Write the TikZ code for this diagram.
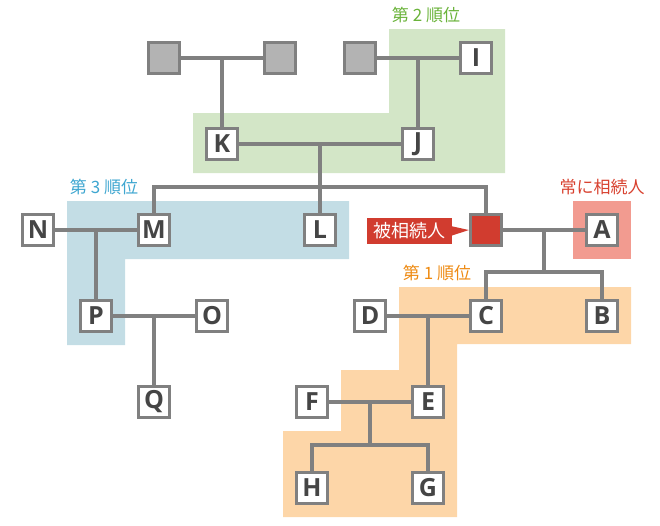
\documentclass[tikz,border=0pt]{standalone}
\usepackage{fontspec}
\setmainfont{Noto Sans CJK JP}
\newfontfamily\latinf{Open Sans}
\usetikzlibrary{calc}
\definecolor{lgray}{HTML}{808080}
\definecolor{boxgray}{HTML}{B3B3B3}
\definecolor{txtgray}{HTML}{454545}
\definecolor{greenbg}{HTML}{D3E6C7}
\definecolor{bluebg}{HTML}{C3DDE5}
\definecolor{orangebg}{HTML}{FDD6A8}
\definecolor{pinkbg}{HTML}{F29B90}
\definecolor{redc}{HTML}{D13C2F}
\definecolor{greentx}{HTML}{6AB33A}
\definecolor{bluetx}{HTML}{3EA6D0}
\definecolor{orangetx}{HTML}{EE8A12}
\definecolor{redtx}{HTML}{D8412F}
\tikzset{
  person/.style={draw=lgray, line width=3pt, fill=white, minimum size=31.5pt, inner sep=0pt,
    text=txtgray, font=\latinf\fontsize{25}{25}\selectfont\bfseries},
  ancestor/.style={person, fill=boxgray},
  victim/.style={person, fill=redc},
  link/.style={draw=lgray, line width=4pt},
  grouplabel/.style={font=\fontsize{17}{17}\selectfont, inner sep=0pt},
}
\begin{document}
\begin{tikzpicture}[x=1pt,y=-1pt]
\useasboundingbox (0,0) rectangle (660,525);
% regions
\fill[greenbg] (389,29) -- (505,29) -- (505,173) -- (193,173) -- (193,113) -- (389,113) -- cycle;
\fill[bluebg] (67,201) -- (349,201) -- (349,259) -- (125,259) -- (125,345) -- (67,345) -- cycle;
\fill[pinkbg] (573,201) rectangle (631,259);
\fill[orangebg] (399,287) -- (631,287) -- (631,344) -- (457,344) -- (457,517) -- (283,517) -- (283,431) -- (341,431) -- (341,370) -- (399,370) -- cycle;
% group labels
\node[grouplabel, text=greentx] (lab2) at (426,15) {第 2 順位};
\node[grouplabel, text=bluetx] (lab3) at (104,187) {第 3 順位};
\node[grouplabel, text=orangetx] (lab1) at (437,273) {第 1 順位};
\node[grouplabel, text=redtx] (labA) at (602,187) {常に相続人};
% people
\node[ancestor] (g1) at (164,58) {};
\node[ancestor] (g2) at (280,58) {};
\node[ancestor] (g3) at (360,58) {};
\node[person] (I) at (476,58) {I};
\node[person] (K) at (222,144) {K};
\node[person] (J) at (418,144) {J};
\node[person] (N) at (38,230) {N};
\node[person] (M) at (154,230) {M};
\node[person] (L) at (320,230) {L};
\node[victim] (V) at (486,230) {};
\node[person] (A) at (602,230) {A};
\node[person] (P) at (96,316) {P};
\node[person] (O) at (212,316) {O};
\node[person] (D) at (370,316) {D};
\node[person] (C) at (486,316) {C};
\node[person] (B) at (602,316) {B};
\node[person] (Q) at (154,402) {Q};
\node[person] (F) at (312,402) {F};
\node[person] (E) at (428,402) {E};
\node[person] (H) at (312,488) {H};
\node[person] (G) at (428,488) {G};
% victim label
\node[fill=redc, text=white, font=\fontsize{18}{18}\selectfont, minimum width=85pt, minimum height=26pt, inner sep=0pt] (vl) at (409,231) {被相続人};
\fill[redc] ($(vl.east)+(-1,-5)$) -- (V.west) -- ($(vl.east)+(-1,5)$) -- cycle;
% connectors
\coordinate (m12) at ($(g1)!.5!(g2)$);
\coordinate (m3I) at ($(g3)!.5!(I)$);
\coordinate (mKJ) at ($(K)!.5!(J)$);
\coordinate (bar3) at (320,187);
\coordinate (mNM) at ($(N)!.5!(M)$);
\coordinate (mPO) at ($(P)!.5!(O)$);
\coordinate (mVA) at ($(V)!.5!(A)$);
\coordinate (barCB) at (544,272);
\coordinate (mDC) at ($(D)!.5!(C)$);
\coordinate (mFE) at ($(F)!.5!(E)$);
\coordinate (barHG) at (370,445);
\begin{scope}[link]
\draw (g1) -- (g2);
\draw (m12) -- (K);
\draw (g3) -- (I);
\draw (m3I) -- (J);
\draw (K) -- (J);
\draw (mKJ) -- (L);
\draw (M) |- (bar3) -| (V);
\draw (N) -- (M);
\draw (mNM) -- (P);
\draw (P) -- (O);
\draw (mPO) -- (Q);
\draw (V) -- (A);
\draw (mVA) -- (barCB);
\draw (C) |- (barCB) -| (B);
\draw (D) -- (C);
\draw (mDC) -- (E);
\draw (F) -- (E);
\draw (mFE) -- (barHG);
\draw (H) |- (barHG) -| (G);
\end{scope}
\end{tikzpicture}
\end{document}
